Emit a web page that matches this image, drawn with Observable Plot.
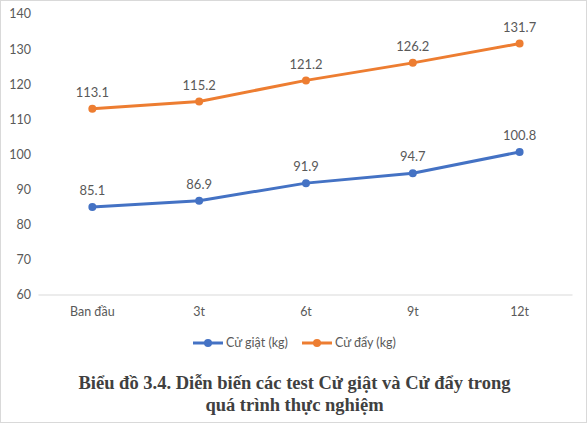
<!DOCTYPE html>
<html>
<head>
<meta charset="utf-8">
<script src="https://cdn.jsdelivr.net/npm/d3@7"></script>
<script src="https://cdn.jsdelivr.net/npm/@observablehq/plot@0.6"></script>
<style>
  html, body { margin: 0; padding: 0; background: #fff; }
  #wrap { position: relative; width: 587px; height: 423px; box-sizing: border-box; border: 1px solid #d9d9d9; overflow: hidden; font-family: Lato, "Open Sans", sans-serif; }
  #chart { position: absolute; left: -1px; top: -1px; }
  #legend { position: absolute; left: 0; width: 587px; top: 334px; display: flex; justify-content: center; gap: 14px; font-size: 12.5px; color: #595959; }
  .item { display: flex; align-items: center; gap: 3px; }
  #title { position: absolute; left: 0; width: 587px; top: 371px; text-align: center; font-family: "Liberation Serif", "Times New Roman", serif; font-weight: bold; font-size: 18.5px; line-height: 22px; color: #404040; }
</style>
</head>
<body>
<div id="wrap">
  <div id="chart"></div>
  <div id="legend"></div>
  <div id="title">Biểu đồ 3.4. Diễn biến các test Cử giật và Cử đẩy trong<br>quá trình thực nghiệm</div>
</div>
<script>
const categories = ["Ban đầu", "3t", "6t", "9t", "12t"];
const cuGiat = [85.1, 86.9, 91.9, 94.7, 100.8];
const cuDay = [113.1, 115.2, 121.2, 126.2, 131.7];
const seriesNames = ["Cử giật (kg)", "Cử đẩy (kg)"];
const colors = ["#4472C4", "#ED7D31"];
const yTicks = [60, 70, 80, 90, 100, 110, 120, 130, 140];

const data = [];
[cuGiat, cuDay].forEach((vals, si) => {
  vals.forEach((v, i) => data.push({ cat: categories[i], value: v, series: seriesNames[si] }));
});

const chart = Plot.plot({
  width: 587,
  height: 325,
  marginLeft: 38.5,
  marginRight: 13.5,
  marginTop: 14,
  marginBottom: 30,
  style: { fontFamily: "Lato, 'Open Sans', sans-serif", fontSize: "12.5px", color: "#595959", background: "transparent" },
  x: { type: "point", domain: categories, padding: 0.5, label: null },
  y: { domain: [60, 140], ticks: yTicks, label: null },
  color: { domain: seriesNames, range: colors },
  marks: [
    Plot.ruleY([60], { stroke: "#d9d9d9", strokeWidth: 1 }),
    Plot.axisY({ ticks: yTicks, tickSize: 0, tickPadding: 8, label: null, fill: "#595959" }),
    Plot.axisX({ tickSize: 0, tickPadding: 12, label: null, fill: "#595959" }),
    Plot.line(data, { x: "cat", y: "value", z: "series", stroke: "series", strokeWidth: 3 }),
    Plot.dot(data, { x: "cat", y: "value", fill: "series", r: 4 }),
    Plot.text(data, { x: "cat", y: "value", text: d => d.value.toFixed(1), dy: -16, fill: "#595959", fontSize: 13 })
  ]
});
document.getElementById("chart").appendChild(chart);

const legend = document.getElementById("legend");
seriesNames.forEach((name, i) => {
  const item = document.createElement("div");
  item.className = "item";
  item.innerHTML = `<svg width="30" height="10"><line x1="0" y1="5" x2="30" y2="5" stroke="${colors[i]}" stroke-width="3"/><circle cx="15" cy="5" r="4" fill="${colors[i]}"/></svg><span>${name}</span>`;
  legend.appendChild(item);
});
</script>
</body>
</html>
